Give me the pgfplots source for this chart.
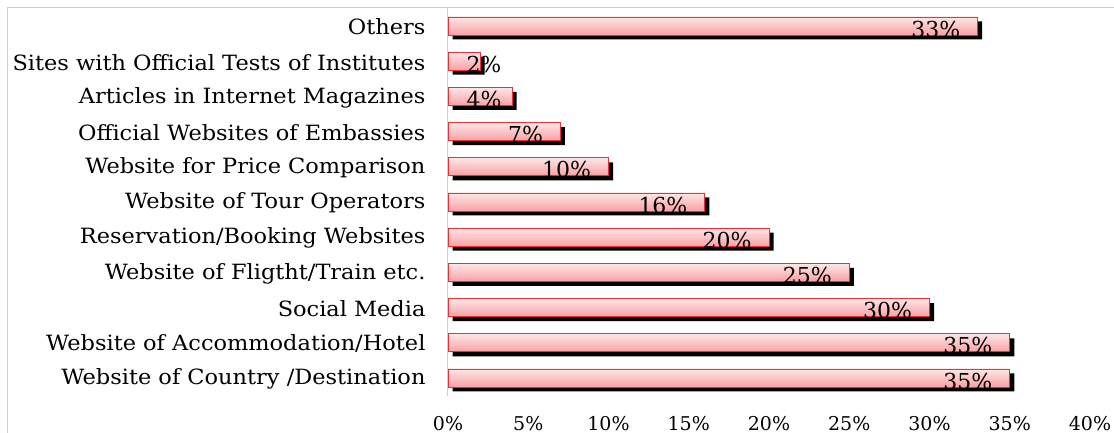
\documentclass[border=0pt]{standalone}
\usepackage{pgfplots}
\pgfplotsset{compat=1.18}
\usepackage{fontspec}
\setmainfont{DejaVu Serif}
\newfontfamily\catfont{DejaVu Serif}[FakeStretch=1.07]
\definecolor{barTop}{RGB}{255,230,230}
\definecolor{barBot}{RGB}{248,160,165}
\definecolor{barEdge}{RGB}{228,50,60}
\definecolor{frameGray}{RGB}{205,205,205}
\pgfplotsset{
  pinkbar/.style={draw=barEdge, line width=0.8pt, top color=barTop, bottom color=barBot,
    nodes near coords={\pgfmathprintnumber{\pgfplotspointmeta}\%},
    every node near coord/.append style={anchor=east, text=black, font=\fontsize{22}{26}\selectfont, inner sep=0pt, xshift=-17pt, yshift=-3pt}},
  shortbar/.style={every node near coord/.append style={anchor=west, xshift=#1}},
}
\begin{document}
\begin{tikzpicture}
\useasboundingbox (0pt,0pt) rectangle (1114pt,433pt);
\draw[frameGray, line width=1pt] (7pt,0pt) -- (7pt,425pt) -- (1114pt,425pt);
\begin{axis}[
  at={(448pt,37.4pt)}, anchor=south west,
  scale only axis, width=642pt, height=387.2pt,
  xbar, bar width=18pt, bar shift=0pt,
  xmin=0, xmax=40, ymin=-0.5, ymax=10.5,
  xtick={0,5,...,40},
  xticklabel={\pgfmathprintnumber{\tick}\%},
  ytick={0,...,10},
  yticklabels={Website of Country /Destination,Website of Accommodation/Hotel,Social Media,Website of Fligtht/Train etc.,Reservation/Booking Websites,Website of Tour Operators,Website for Price Comparison,Official Websites of Embassies,Articles in Internet Magazines,Sites with Official Tests of Institutes,Others},
  axis line style={draw=none},
  major tick length=0pt,
  /pgf/number format/assume math mode=true,
  xticklabel style={font=\fontsize{19}{22}\selectfont, yshift=-17pt},
  yticklabel style={font=\catfont\fontsize{21}{24}\selectfont, xshift=-19pt, yshift=-1pt},
  clip=false,
]
\draw[frameGray, line width=1pt] (axis cs:0,-0.5) -- (axis cs:0,10.5);
% shadows
\addplot[draw=none, fill=black, xshift=4.5pt, yshift=-4.5pt] coordinates {
(35,0) (35,1) (30,2) (25,3) (20,4) (16,5) (10,6) (7,7) (4,8) (2,9) (33,10)
};
\addplot[pinkbar] coordinates {(35,0)};
\addplot[pinkbar] coordinates {(35,1)};
\addplot[pinkbar] coordinates {(30,2)};
\addplot[pinkbar] coordinates {(25,3)};
\addplot[pinkbar] coordinates {(20,4)};
\addplot[pinkbar] coordinates {(16,5)};
\addplot[pinkbar] coordinates {(10,6)};
\addplot[pinkbar] coordinates {(7,7)};
\addplot[pinkbar, shortbar=-29pt] coordinates {(4,8)};
\addplot[pinkbar, shortbar=3pt] coordinates {(2,9)};
\addplot[pinkbar] coordinates {(33,10)};
\end{axis}
\end{tikzpicture}
\end{document}
